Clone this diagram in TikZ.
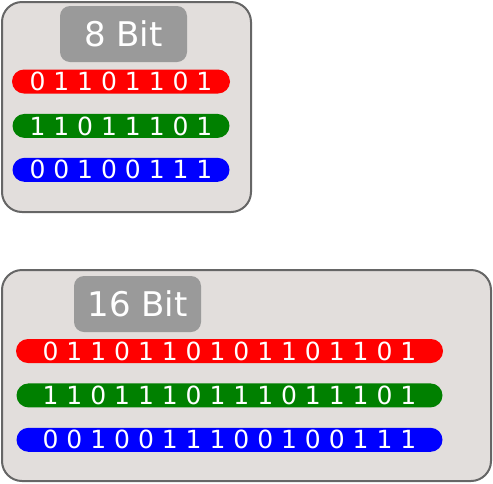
\documentclass[tikz,border=0pt]{standalone}
\usepackage{fontspec}
\setmainfont{DejaVu Sans}
\usepackage{tikz}
\usetikzlibrary{positioning}
\definecolor{panelfill}{HTML}{E2DEDC}
\definecolor{panelline}{HTML}{666666}
\definecolor{titlefill}{HTML}{9A9A9A}
\definecolor{bitgreen}{HTML}{008000}

\tikzset{
   panel/.style={draw=panelline, line width=2pt, fill=panelfill, rounded corners=20pt, inner sep=0pt},
   title/.style={fill=titlefill, rounded corners=10pt, text=white, minimum width=127pt,
      minimum height=56pt, inner sep=0pt, font=\fontsize{34}{40}\selectfont},
   bitrow/.style={rounded corners=12pt, text=white, minimum height=24pt, inner sep=0pt,
      font=\fontsize{25}{30}\selectfont},
}

\begin{document}
\begin{tikzpicture}[x=1pt,y=-1pt]
   \useasboundingbox (0,0) rectangle (493,483);
   % 8 bit
   \node[panel, minimum width=249pt, minimum height=210pt] (panel8) at (126.5,107) {};
   \node[title] (title8) at (123.5,34) {8 Bit};
   \node[bitrow, fill=red, minimum width=218pt] (red8) at (121,81.5) {0 1 1 0 1 1 0 1};
   \node[bitrow, fill=bitgreen, minimum width=217pt, below=20pt of red8] (green8) {1 1 0 1 1 1 0 1};
   \node[bitrow, fill=blue, minimum width=217pt, below=19.5pt of green8] (blue8) {0 0 1 0 0 1 1 1};
   % 16 bit
   \node[panel, minimum width=489pt, minimum height=211pt] (panel16) at (246.5,375.5) {};
   \node[title] (title16) at (137.5,304) {16 Bit};
   \node[bitrow, fill=red, minimum width=427pt] (red16) at (229.5,351)
      {0 1 1 0 1 1 0 1 0 1 1 0 1 1 0 1};
   \node[bitrow, fill=bitgreen, minimum width=426pt, below=20pt of red16] (green16)
      {1 1 0 1 1 1 0 1 1 1 0 1 1 1 0 1};
   \node[bitrow, fill=blue, minimum width=426pt, below=20pt of green16] (blue16)
      {0 0 1 0 0 1 1 1 0 0 1 0 0 1 1 1};
\end{tikzpicture}
\end{document}
